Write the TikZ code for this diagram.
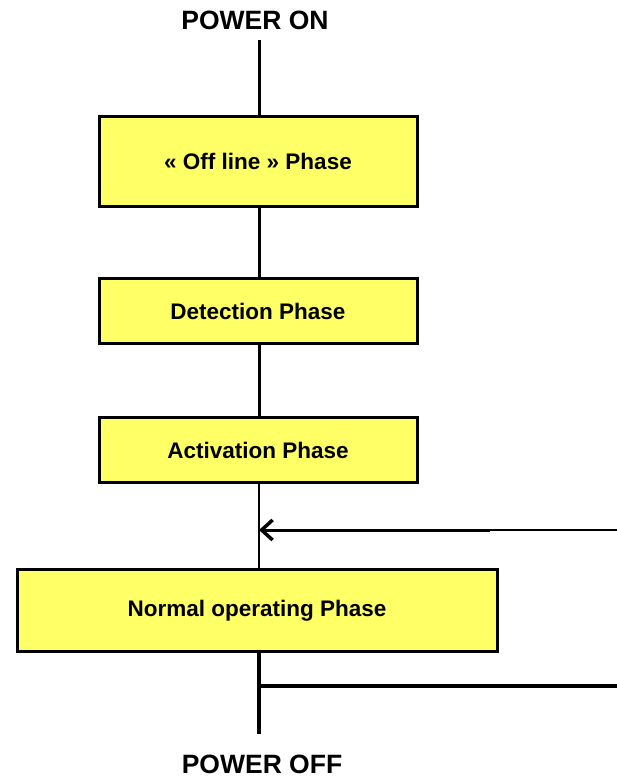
\documentclass[tikz,border=0pt]{standalone}
\usepackage{fontspec}
\setmainfont{Liberation Sans}
\usetikzlibrary{arrows.meta}
\definecolor{phaseyellow}{HTML}{FFFF66}
\tikzset{
  phasebox/.style={draw=black, line width=3pt, fill=phaseyellow, inner sep=0pt, outer sep=0pt,
    font=\fontsize{22.5}{25}\selectfont\bfseries, text=black},
  powertext/.style={font=\fontsize{26.5}{29}\selectfont\bfseries, inner sep=0pt, text=black},
  link/.style={line width=3pt},
  thinlink/.style={line width=2pt},
  thicklink/.style={line width=4pt},
}
\begin{document}
\begin{tikzpicture}[x=1pt,y=-1pt]
\useasboundingbox (0,0) rectangle (617,780);
\node[powertext] (pon) at (255,20) {POWER ON};
\node[powertext] (poff) at (262,764) {POWER OFF};
\node[phasebox, minimum width=318pt, minimum height=90pt] (off) at (258,161.5) {« Off line » Phase};
\node[phasebox, minimum width=318pt, minimum height=65pt] (det) at (258,311) {Detection Phase};
\node[phasebox, minimum width=318pt, minimum height=65pt] (act) at (258,450) {Activation Phase};
\node[phasebox, minimum width=480pt, minimum height=82pt] (norm) at (257,610.5) {Normal operating Phase};
\coordinate (top) at (259,40);
\coordinate (bot) at (259,734);
\coordinate (rin) at (617,530);
\coordinate (rmid) at (490,530);
\coordinate (join) at (259,530);
\coordinate (split) at (259,686);
\coordinate (rout) at (617,686);
\draw[link] (top) -- (top |- off.north);
\draw[link] (top |- off.south) -- (top |- det.north);
\draw[link] (top |- det.south) -- (top |- act.north);
\draw[thinlink] (top |- act.south) -- (top |- norm.north);
\draw[thinlink] (rin) -- (rmid);
\draw[link, -{Straight Barb[length=11pt,width=20pt,line width=3.5pt]}] (rmid) -- (join);
\draw[thicklink] (top |- norm.south) -- (bot);
\draw[thicklink] (split) -- (rout);
\end{tikzpicture}
\end{document}
